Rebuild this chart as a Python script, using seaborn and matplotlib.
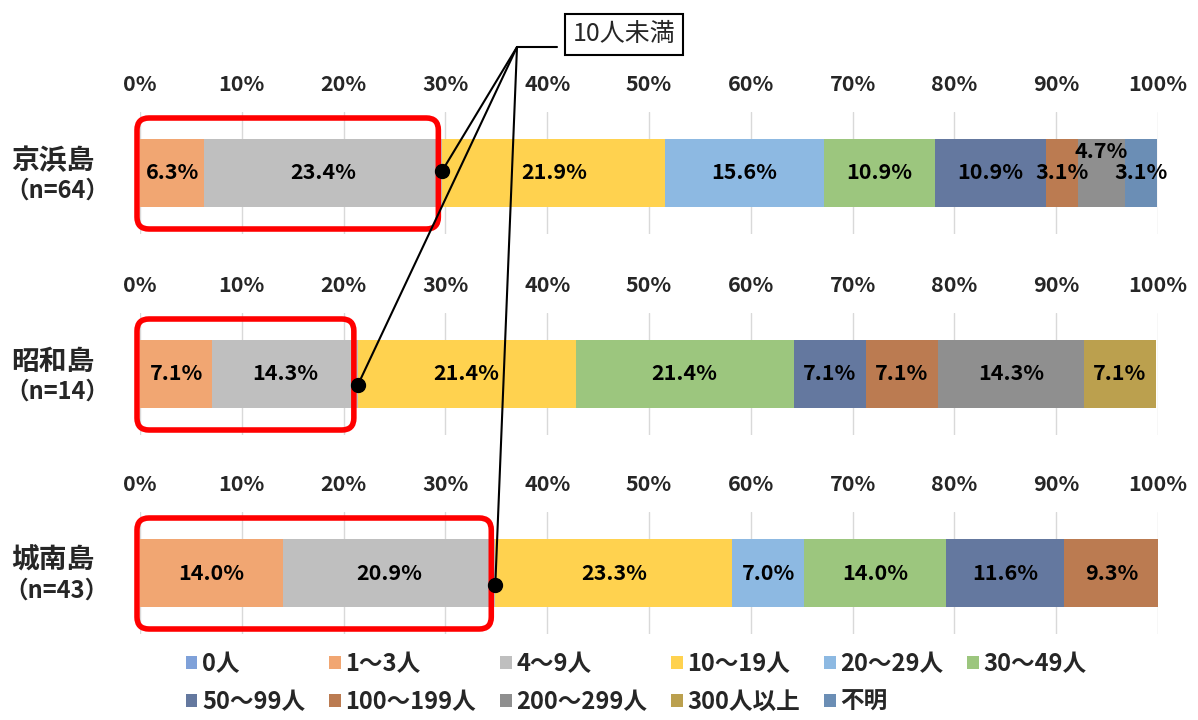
import numpy as np
import pandas as pd
import matplotlib
import matplotlib.pyplot as plt
import seaborn as sns
from matplotlib.patches import FancyBboxPatch, Patch
from matplotlib.lines import Line2D
from matplotlib.transforms import IdentityTransform

categories = ["0人", "1～3人", "4～9人", "10～19人", "20～29人", "30～49人",
              "50～99人", "100～199人", "200～299人", "300人以上", "不明"]
colors = ["#7FA1D9", "#F1A672", "#BFBFBF", "#FFD24F", "#8DB9E2", "#9CC67E",
          "#64789F", "#BB7B51", "#8F8F8F", "#BBA04E", "#6B8EB5"]

islands = ["京浜島", "昭和島", "城南島"]
sample_sizes = ["（n=64）", "（n=14）", "（n=43）"]
keihinjima = [0, 6.3, 23.4, 21.9, 15.6, 10.9, 10.9, 3.1, 4.7, 0, 3.1]
showajima = [0, 7.1, 14.3, 21.4, 0, 21.4, 7.1, 7.1, 14.3, 7.1, 0]
jonanjima = [0, 14.0, 20.9, 23.3, 7.0, 14.0, 11.6, 9.3, 0, 0, 0]
shares = [keihinjima, showajima, jonanjima]

tick_values = list(range(0, 101, 10))
callout_text = "10人未満"
under_ten = ["1～3人", "4～9人"]  # categories inside the red box

sns.set_theme(style="white")
plt.rcParams["font.family"] = ["Noto Sans CJK JP", "DejaVu Sans"]

W, H = 1198, 720
fig = plt.figure(figsize=(W / 100, H / 100), dpi=100)

# bar centres in pixels (from top) and axes geometry
centers_px = [173, 374, 573]
ax_left, ax_right = 140, 1158
ax_half = 61
bar_width = 68 / (2 * ax_half)

axes = []
for i, island in enumerate(islands):
    c = centers_px[i]
    ax = fig.add_axes([ax_left / W, 1 - (c + ax_half) / H,
                       (ax_right - ax_left) / W, 2 * ax_half / H])
    df = pd.DataFrame({"category": categories, "share": shares[i]})
    df["end"] = df["share"].cumsum()
    df["start"] = df["end"] - df["share"]
    df["island"] = island

    # stacked bar: draw cumulative totals from the last segment to the first
    for k in range(len(df) - 1, -1, -1):
        row = df.iloc[[k]]
        if row["share"].iloc[0] == 0:
            continue
        sns.barplot(data=row, x="end", y="island", orient="h", color=colors[k],
                    saturation=1, width=bar_width, errorbar=None, linewidth=0,
                    ax=ax)

    for k, row in df.iterrows():
        if row["share"] == 0:
            continue
        dy = 0
        if i == 0 and row["category"] == "200～299人":
            dy = -0.18  # label lifted like in the original
        ax.text(row["start"] + row["share"] / 2, dy, f"{row['share']:.1f}%",
                ha="center", va="center", fontsize=15.5, fontweight="bold",
                color="black", zorder=5)

    ax.set_xlim(0, 100)
    ax.set_ylim(0.5, -0.5)
    ax.xaxis.tick_top()
    ax.set_xticks(tick_values)
    ax.set_xticklabels([f"{t}%" for t in tick_values], fontsize=15.5,
                       fontweight="bold")
    ax.tick_params(axis="x", length=0, pad=12)
    ax.set_yticks([])
    ax.set_xlabel("")
    ax.set_ylabel("")
    ax.grid(axis="x", color="#D9D9D9", linewidth=1)
    ax.set_axisbelow(True)
    for s in ax.spines.values():
        s.set_visible(False)

    fig.text(53 / W, 1 - (c - 12) / H, island, ha="center", va="center",
             fontsize=20, fontweight="bold")
    fig.text(57 / W, 1 - (c + 18) / H, sample_sizes[i], ha="center",
             va="center", fontsize=17, fontweight="bold")
    axes.append((ax, df))

# red boxes, dots and callout lines
dots = []
for i, (ax, df) in enumerate(axes):
    c = centers_px[i]
    cut = df.loc[df["category"].isin(under_ten), "share"].sum()
    x_end = ax.transData.transform((cut, 0))[0]
    x_start = ax.transData.transform((0, 0))[0]
    y_top = H - (c - 55)
    y_bot = H - (c + 56)
    box = FancyBboxPatch((x_start - 3, y_bot), x_end - x_start - 1, y_top - y_bot,
                         boxstyle="round,pad=0,rounding_size=12",
                         transform=IdentityTransform(), fill=False,
                         edgecolor="#FF0000", linewidth=4, zorder=3)
    fig.add_artist(box)
    dot_y = [0.02, -0.09, -0.1][i]
    dots.append(ax.transData.transform((cut, -dot_y)))

elbow = (517, H - 47)
box_left = (557, H - 47)
fig.add_artist(Line2D([elbow[0], box_left[0]], [elbow[1], box_left[1]],
                      transform=IdentityTransform(), color="black", lw=1.5,
                      zorder=4))
for d in dots:
    fig.add_artist(Line2D([elbow[0], d[0]], [elbow[1], d[1]],
                          transform=IdentityTransform(), color="black", lw=1.5,
                          zorder=4))
    fig.add_artist(Line2D([d[0]], [d[1]], marker="o", markersize=10,
                          color="black", transform=IdentityTransform(),
                          zorder=6))

fig.text(624 / W, 1 - 34 / H, callout_text, ha="center", va="center",
         fontsize=18, zorder=7,
         bbox=dict(boxstyle="square,pad=0.3", facecolor="white",
                   edgecolor="black", linewidth=1.5))

# legend: 6 columns, filled row by row
handles = [Patch(facecolor=col, edgecolor="none") for col in colors]
order = [0, 6, 1, 7, 2, 8, 3, 9, 4, 10, 5]
fig.legend([handles[j] for j in order], [categories[j] for j in order],
           ncol=6, loc="center", bbox_to_anchor=(0.531, 1 - 683 / H),
           frameon=False, handlelength=0.5, handleheight=0.5,
           handletextpad=0.2, columnspacing=1.0, labelspacing=0.6,
           prop={"size": 17, "weight": "bold"})

fig.savefig("out.png", dpi=100)
